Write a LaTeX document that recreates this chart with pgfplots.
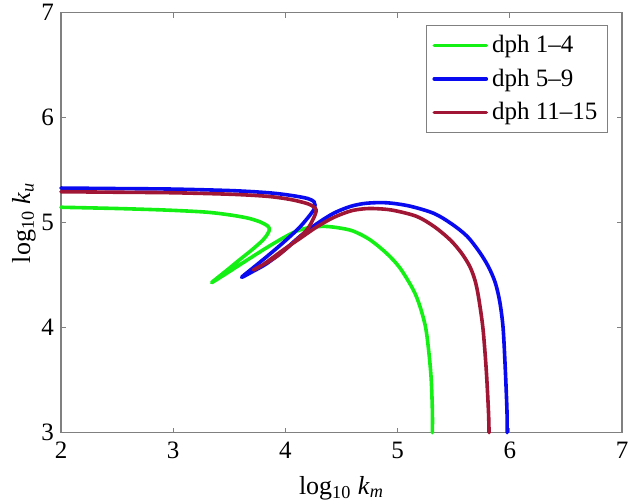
\documentclass[border=0pt]{standalone}
\usepackage{fontspec}
\setmainfont{Liberation Serif}
\usepackage{pgfplots}
\pgfplotsset{compat=1.18}
\usetikzlibrary{calc}
\definecolor{cgreen}{RGB}{20,240,20}
\definecolor{cblue}{RGB}{10,10,240}
\definecolor{cred}{RGB}{160,22,52}
\definecolor{axgray}{RGB}{128,128,128}
\begin{document}
\begin{tikzpicture}
\begin{axis}[
  scale only axis, width=280.5pt, height=210pt,
  xmin=2, xmax=7, ymin=3, ymax=7,
  xtick={2,3,4,5,6,7}, ytick={3,4,5,6,7},
  tick align=inside, tickpos=both, major tick length=2.5pt,
  axis line style={axgray, line width=0.6pt},
  every tick/.style={axgray, line width=0.6pt},
  tick label style={font=\fontsize{12.5}{14}\selectfont},
  xticklabel style={yshift=-1pt},
  /pgf/number format/assume math mode=true,
  xlabel={log\textsubscript{10} \textit{k}\textsubscript{\textit{m}}},
  ylabel={log\textsubscript{10} \textit{k}\textsubscript{\textit{u}}},
  label style={font=\fontsize{13}{15}\selectfont},
  xlabel style={yshift=-2pt},
  ylabel style={yshift=-4pt},
  legend style={at={(0.975,0.971)}, anchor=north east, draw=axgray, line width=0.6pt,
    font=\fontsize{12.5}{14}\selectfont, row sep=2.5pt, inner xsep=3pt, inner ysep=3pt},
  legend cell align=left,
  legend image code/.code={\draw[#1] (0pt,0pt) -- (26pt,0pt);},
  every axis plot/.append style={line width=1.8pt, line join=round, line cap=round, smooth, tension=0.5},
  clip=false,
]
\addplot[cgreen] coordinates {
(2.00,5.147) (2.5,5.135) (2.94,5.12) (3.3,5.10) (3.53,5.07) (3.68,5.04) (3.78,5.005)
(3.84,4.97) (3.857,4.94) (3.845,4.90) (3.80,4.835) (3.70,4.74) (3.595,4.65) (3.47,4.54)
(3.343,4.43) (3.45,4.50) (3.595,4.60) (3.80,4.74) (3.98,4.855) (4.10,4.92) (4.22,4.955)
(4.35,4.965) (4.48,4.95) (4.605,4.92) (4.75,4.84) (4.90,4.71) (5.02,4.57) (5.14,4.36)
(5.20,4.2) (5.25,4.0) (5.28,3.75) (5.30,3.5) (5.31,3.2) (5.31,3.0)
};
\addlegendentry{dph 1–4}
\addplot[cblue] coordinates {
(2.00,5.33) (2.5,5.325) (3.0,5.32) (3.53,5.305) (3.85,5.285) (4.05,5.26) (4.2,5.23)
(4.255,5.20) (4.264,5.17) (4.245,5.11) (4.13,4.96) (3.98,4.81) (3.833,4.676) (3.70,4.56)
(3.61,4.48) (3.70,4.53) (3.833,4.61) (3.98,4.73) (4.13,4.87) (4.28,4.99) (4.43,5.09)
(4.58,5.155) (4.72,5.185) (4.90,5.19) (5.10,5.16) (5.32,5.09) (5.48,4.99) (5.62,4.87)
(5.73,4.72) (5.81,4.58) (5.87,4.43) (5.91,4.25) (5.94,4.0) (5.96,3.6) (5.975,3.2) (5.976,3.0)
};
\addlegendentry{dph 5–9}
\addplot[cred] coordinates {
(2.00,5.295) (2.5,5.29) (3.0,5.285) (3.53,5.27) (3.85,5.25) (4.05,5.22) (4.2,5.18)
(4.265,5.14) (4.273,5.105) (4.25,5.04) (4.19,4.93) (4.06,4.80) (3.92,4.676) (3.80,4.60)
(3.714,4.55) (3.80,4.60) (3.98,4.74) (4.13,4.85) (4.28,4.96) (4.43,5.05) (4.576,5.11)
(4.68,5.13) (4.78,5.135) (4.95,5.12) (5.17,5.06) (5.33,4.96) (5.47,4.835) (5.57,4.71)
(5.645,4.58) (5.69,4.45) (5.72,4.30) (5.76,4.0) (5.79,3.6) (5.81,3.2) (5.815,3.0)
};
\addlegendentry{dph 11–15}
\coordinate (tl) at (rel axis cs:0,1);
\coordinate (br) at (rel axis cs:1,0);
\end{axis}
\pgfresetboundingbox
\path ($(tl)+(-30.5pt,6.35pt)$) rectangle ($(br)+(3pt,-33.5pt)$);
\end{tikzpicture}
\end{document}
